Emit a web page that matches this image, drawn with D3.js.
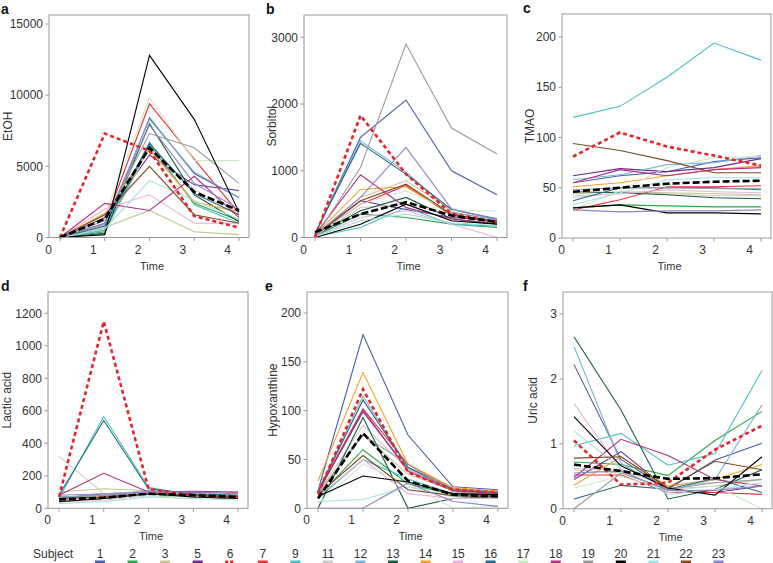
<!DOCTYPE html>
<html><head><meta charset="utf-8">
<script src="https://cdn.jsdelivr.net/npm/d3@7"></script>
<style>body{margin:0;background:#fff}svg{display:block}text{font-family:"Liberation Sans",Arial,sans-serif}</style>
</head><body><svg id="c" width="773" height="563"></svg>
<script>
const times=[0,1,2,3,4];
const xTickLabels=["0","1","2","3","4"];
const subjects=["1","2","3","5","6","7","9","11","12","13","14","15","16","17","18","19","20","21","22","23"];
const subjectColors=["#4b5cab","#2aa84a","#c9c48f","#6a2c91","#e3262a","#e8323a","#4cc0c0","#cccccc","#7fb3d5","#1a5c40","#f7a028","#e8b3d9","#1f6b85","#cfe8c8","#b3307e","#9a9a9a","#000000","#a6dde0","#7b4a26","#8a86c4"];
const dashedSubject="6";

const etoh=[
[0,600,8400,4500,2800],[0,400,6500,2400,1200],[0,700,1900,400,200],[0,1400,5800,3700,3300],
[0,7300,6100,1500,700],[0,1000,9400,5500,1700],[0,500,6700,2300,1000],[0,300,6300,3400,1500],
[0,900,8300,4600,2800],[0,300,8000,3000,1100],[0,1700,6200,2500,1800],[0,2000,3000,1000,1000],
[0,800,6600,3100,1600],[0,1500,9800,5400,5400],[0,2400,1900,4300,1400],[0,1200,7300,6300,3800],
[0,200,12800,8300,1800],[0,600,4000,2600,1300],[0,1600,5000,1600,1000],[0,1000,7900,3800,2000]];
const etohMean=[0,1300,6300,3200,1900];

const sorbitol=[
[50,1500,2060,1000,640],[20,350,300,200,150],[30,600,850,420,260],[40,550,420,300,250],
[0,1830,950,360,230],[30,500,780,330,220],[10,150,450,200,170],[20,450,500,250,200],
[50,1450,980,380,260],[30,400,600,280,200],[40,720,760,350,240],[10,300,400,200,0],
[60,1410,950,420,280],[20,500,700,400,400],[40,940,450,280,200],[0,1050,2900,1640,1250],
[0,200,500,250,200],[10,250,350,220,180],[30,550,800,350,230],[30,600,1350,430,270]];
const sorbitolMean=[80,350,530,330,230];

const tmao=[
[55,62,66,76,80],[30,33,32,31,31],[44,46,45,44,43],[62,69,66,70,79],
[81,105,91,82,72],[28,38,51,51,52],[120,131,160,194,177],[40,45,44,42,42],
[58,63,73,75,82],[46,45,43,40,39],[51,55,62,68,72],[42,44,48,46,45],
[37,50,50,50,48],[28,47,70,80,81],[55,68,62,68,70],[48,50,50,49,49],
[30,33,25,25,24],[33,45,58,60,60],[94,87,77,65,65],[28,26,27,27,28]];
const tmaoMean=[46,50,54,56,57];

const lactic=[
[60,90,100,80,70],[50,60,80,70,60],[100,120,110,90,80],[70,80,90,100,95],
[70,1150,120,80,70],[60,70,90,80,70],[60,565,130,80,65],[320,90,100,90,90],
[70,80,110,85,75],[50,60,90,80,70],[60,70,80,70,60],[40,50,80,90,100],
[80,540,120,90,80],[50,60,80,70,60],[80,215,100,105,100],[60,80,90,80,70],
[40,60,90,70,60],[30,40,70,60,50],[60,70,90,80,70],[80,90,100,100,90]];
const lacticMean=[55,65,90,80,70];

const hypox=[
[18,178,75,22,19],[12,60,25,14,13],[16,75,35,18,15],[17,99,40,18,16],
[15,122,37,19,16],[17,102,45,20,17],[10,50,30,15,14],[15,85,40,17,15],
[18,115,42,20,17],[0,93,0,10,12],[28,139,45,21,18],[12,50,15,10,10],
[17,111,42,19,16],[5,45,25,0,2],[16,101,38,18,15],[14,75,45,17,14],
[12,33,27,15,14],[7,9,22,12,12],[14,54,19,13,12],[0,0,26,7,2]];
const hypoxMean=[10,77,28,14,12];

const uric=[
[2.22,0.76,0.30,0.75,1.01],[0.72,0.68,0.51,1.05,1.50],[0.60,0.55,0.30,0.35,0.45],[0.45,0.88,0.30,0.25,0.35],
[1.05,0.37,0.40,0.91,1.28],[0.52,0.52,0.25,0.25,0.22],[0.97,1.16,0.67,0.85,2.13],[0.62,0.60,0.35,0.40,0.45],
[2.50,0.70,0.28,0.45,1.60],[2.65,1.52,0.15,0.30,0.60],[0.36,0.80,0.35,0.45,0.68],[1.62,0.60,0.25,0.30,0.35],
[0.15,0.36,0.30,0.47,0.25],[0.32,0.50,0.28,0.35,0.00],[0.48,1.07,0.82,0.45,0.35],[0.00,0.55,0.30,0.40,0.45],
[1.42,0.66,0.32,0.21,0.80],[1.20,0.62,0.22,0.30,0.40],[0.78,0.80,0.32,0.73,0.60],[0.55,0.58,0.28,0.28,0.35]];
const uricMean=[0.68,0.58,0.46,0.47,0.53];

const panels=[
 {letter:"a",title:"EtOH",data:etoh,mean:etohMean,yTicks:[0,5000,10000,15000],x0:60,x4:239,yb:237.5,yt:24,ymax:15000,top:15,ylx:12,lx:1},
 {letter:"b",title:"Sorbitol",data:sorbitol,mean:sorbitolMean,yTicks:[0,1000,2000,3000],x0:315,x4:497,yb:237.5,yt:37.3,ymax:3000,top:15,ylx:276,lx:266},
 {letter:"c",title:"TMAO",data:tmao,mean:tmaoMean,yTicks:[0,50,100,150,200],x0:573,x4:761,yb:238,yt:37,ymax:200,top:14,ylx:534,lx:523},
 {letter:"d",title:"Lactic acid",data:lactic,mean:lacticMean,yTicks:[0,200,400,600,800,1000,1200],x0:59,x4:238,yb:508.3,yt:313.3,ymax:1200,top:292,ylx:11,lx:1},
 {letter:"e",title:"Hypoxanthine",data:hypox,mean:hypoxMean,yTicks:[0,50,100,150,200],x0:318,x4:498,yb:508.3,yt:313,ymax:200,top:292,ylx:277,lx:265},
 {letter:"f",title:"Uric acid",data:uric,mean:uricMean,yTicks:[0,1,2,3],x0:574,x4:762,yb:508.7,yt:314,ymax:3,top:292,ylx:537,lx:523}
];

const svg=d3.select("#c");
const axisCol="#9a9a9a", txtCol="#333";

panels.forEach(p=>{
  const x=d3.scaleLinear().domain([0,4]).range([p.x0,p.x4]);
  const y=d3.scaleLinear().domain([0,p.ymax]).range([p.yb,p.yt]);
  const left=p.x0-11, right=p.x4+10;
  const g=svg.append("g");
  const line=d3.line().x((d,i)=>x(times[i])).y(d=>y(d));
  const order=subjects.map((s,i)=>i).filter(i=>subjects[i]!==dashedSubject);
  order.forEach(i=>{
    g.append("path").attr("d",line(p.data[i])).attr("fill","none")
     .attr("stroke",subjectColors[i]).attr("stroke-width",1.1);
  });
  const di=subjects.indexOf(dashedSubject);
  g.append("path").attr("d",line(p.data[di])).attr("fill","none")
   .attr("stroke",subjectColors[di]).attr("stroke-width",2.6).attr("stroke-dasharray","4,3");
  g.append("path").attr("d",line(p.mean)).attr("fill","none")
   .attr("stroke","#000").attr("stroke-width",2.6).attr("stroke-dasharray","7,3");
  g.append("rect").attr("x",left).attr("y",p.top).attr("width",right-left).attr("height",p.yb-p.top)
   .attr("fill","none").attr("stroke",axisCol).attr("stroke-width",1);
  p.yTicks.forEach(t=>{
    g.append("line").attr("x1",left-3.5).attr("x2",left).attr("y1",y(t)).attr("y2",y(t)).attr("stroke",axisCol);
    g.append("text").attr("x",left-6).attr("y",y(t)).attr("dy","0.35em").attr("text-anchor","end")
     .attr("font-size",12).attr("fill",txtCol).text(d3.format("d")(t));
  });
  times.forEach((t,i)=>{
    g.append("line").attr("x1",x(t)).attr("x2",x(t)).attr("y1",p.yb).attr("y2",p.yb+3.5).attr("stroke",axisCol);
    g.append("text").attr("x",x(t)-11.5).attr("y",p.yb+16).attr("text-anchor","middle")
     .attr("font-size",12).attr("fill",txtCol).text(xTickLabels[i]);
  });
  g.append("text").attr("x",(left+right)/2+3).attr("y",p.yb+32).attr("text-anchor","middle")
   .attr("font-size",11).attr("fill",txtCol).text("Time");
  g.append("text").attr("transform",`translate(${p.ylx},${(p.top+p.yb)/2}) rotate(-90)`)
   .attr("text-anchor","middle").attr("font-size",12).attr("fill",txtCol).text(p.title);
  g.append("text").attr("x",p.lx).attr("y",p.top-1.5)
   .attr("font-size",14).attr("font-weight","bold").attr("fill","#111").text(p.letter);
});

const lg=svg.append("g");
lg.append("text").attr("x",33).attr("y",558).attr("font-size",12).attr("fill",txtCol).text("Subject");
const lx=d3.scaleLinear().domain([0,subjects.length-1]).range([100,718.5]);
subjects.forEach((s,i)=>{
  lg.append("text").attr("x",lx(i)).attr("y",558).attr("text-anchor","middle").attr("font-size",12).attr("fill",txtCol).text(s);
  if(s===dashedSubject){
    lg.append("line").attr("x1",lx(i)-5).attr("x2",lx(i)+5).attr("y1",562).attr("y2",562)
      .attr("stroke",subjectColors[i]).attr("stroke-width",3).attr("stroke-dasharray","3,2");
  } else {
    lg.append("rect").attr("x",lx(i)-5).attr("y",560.5).attr("width",10).attr("height",3).attr("fill",subjectColors[i]);
  }
});
</script></body></html>
